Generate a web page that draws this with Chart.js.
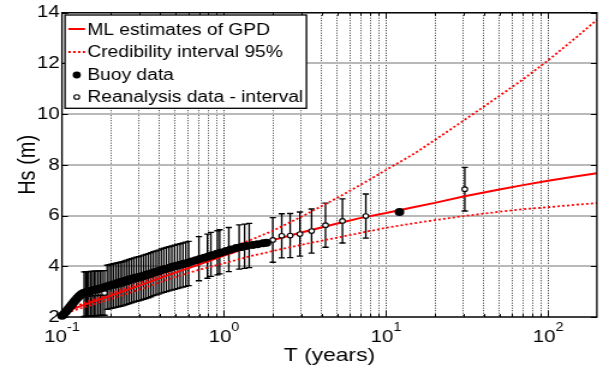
<!DOCTYPE html>
<html>
<head>
<meta charset="utf-8">
<script src="https://cdn.jsdelivr.net/npm/chart.js@4"></script>
<style>
html, body { margin: 0; padding: 0; background: #fff; overflow: hidden; }
#wrap { position: relative; width: 603px; height: 371px; }
canvas { display: block; }
</style>
</head>
<body>
<div id="wrap"><canvas id="c" width="502" height="371" style="width:603px;height:371px"></canvas></div>
<script>
// ---------------- data ----------------
// fitted GPD return-level curve (T in years, Hs in m)
const curveT     = [0.1, 0.15, 0.2, 0.3, 0.5, 0.7, 1, 1.5, 2, 3, 5, 7, 10, 15, 20, 30, 50, 70, 100, 150, 200];
const mlHs       = [2.17, 2.57, 2.84, 3.24, 3.75, 4.07, 4.42, 4.80, 5.03, 5.33, 5.69, 5.91, 6.10, 6.34, 6.50, 6.75, 7.03, 7.20, 7.37, 7.55, 7.67];
const ciUpperHs  = [2.21, 2.65, 2.93, 3.34, 3.88, 4.22, 4.62, 5.07, 5.40, 5.95, 6.70, 7.22, 7.80, 8.45, 8.98, 9.74, 10.72, 11.37, 12.12, 13.04, 13.72];
const ciLowerHs  = [2.12, 2.46, 2.71, 3.08, 3.58, 3.86, 4.12, 4.42, 4.60, 4.85, 5.13, 5.32, 5.52, 5.70, 5.82, 5.98, 6.15, 6.25, 6.33, 6.43, 6.49];

// buoy data (empirical return periods)
const buoyT  = [0.100,0.103,0.106,0.109,0.112,0.115,0.118,0.121,0.124,0.127,0.130,0.133,0.136,0.139,
                0.142,0.146,0.150,0.155,0.160,0.165,0.170,0.176,0.182,0.188,
                0.195,0.202,0.210,0.218,0.227,0.236,0.246,0.256,0.267,0.279,
                0.292,0.305,0.320,0.335,0.352,0.370,0.390,0.410,0.432,0.455,
                0.480,0.507,0.535,0.565,0.597,0.632,0.670,0.710,0.755,0.800,
                0.850,0.905,0.965,1.03,1.10,1.19,1.28,1.37,1.50,1.61,
                1.74,1.83,12.1];
const buoyHs = [2.05,2.13,2.22,2.31,2.40,2.49,2.58,2.66,2.74,2.81,2.87,2.92,2.95,2.97,
                2.99,3.01,3.03,3.05,3.07,3.09,3.11,3.14,3.17,3.20,
                3.23,3.26,3.29,3.33,3.37,3.40,3.43,3.47,3.51,3.54,
                3.57,3.60,3.64,3.68,3.72,3.76,3.80,3.85,3.89,3.93,
                3.98,4.02,4.06,4.10,4.14,4.19,4.24,4.29,4.34,4.39,
                4.44,4.49,4.54,4.60,4.66,4.72,4.76,4.80,4.84,4.87,
                4.91,4.93,6.14];

// reanalysis data with interval
const reanT   = [0.137,0.140,0.143,0.146,0.150,0.154,0.158,0.162,0.167,0.172,0.177,0.183,
                 0.190,0.196,0.202,0.208,0.215,0.222,0.229,0.236,0.244,0.252,0.260,0.269,0.278,0.288,0.298,0.308,0.319,0.330,0.342,0.354,0.367,0.381,0.395,0.410,0.425,0.441,0.458,0.476,0.495,0.515,0.536,0.558,0.581,0.605,
                 0.70,0.79,0.83,0.91,0.94,1.07,1.24,1.34,1.43,2.00,2.27,2.56,2.94,3.47,4.23,5.38,7.50,30.6];
const reanHs  = [2.90,2.90,2.91,2.91,2.92,2.92,2.93,2.93,2.94,2.94,2.95,2.95,
                 3.17,3.19,3.21,3.23,3.25,3.27,3.29,3.31,3.34,3.37,3.40,3.43,3.46,3.49,3.51,3.54,3.57,3.60,3.63,3.67,3.71,3.74,3.77,3.81,3.84,3.87,3.90,3.93,3.96,3.99,4.02,4.05,4.08,4.11,
                 4.30,4.40,4.47,4.53,4.57,4.66,4.76,4.79,4.82,5.04,5.20,5.21,5.27,5.39,5.62,5.79,5.98,7.04];
const reanErr = [0.88,0.88,0.88,0.88,0.88,0.88,0.88,0.88,0.88,0.88,0.88,0.88,
                 0.87,0.87,0.87,0.87,0.87,0.87,0.87,0.87,0.87,0.87,0.87,0.87,0.87,0.87,0.87,0.87,0.87,0.87,0.87,0.87,0.87,0.87,0.87,0.87,0.87,0.87,0.87,0.87,0.87,0.87,0.87,0.87,0.87,0.87,
                 0.87,0.87,0.87,0.87,0.87,0.87,0.87,0.87,0.87,0.88,0.87,0.87,0.87,0.87,0.87,0.87,0.87,0.86];

// axes
const xMin = 0.1, xMax = 200, yMin = 2, yMax = 14;
const yTickValues = [2, 4, 6, 8, 10, 12, 14];
const xGridValues = [0.2,0.3,0.4,0.5,0.6,0.7,0.8,0.9,1,2,3,4,5,6,7,8,9,10,20,30,40,50,60,70,80,90,100];
const xDecadeValues = [0.1, 1, 10, 100];
const xDecadeExponents = ['-1', '0', '1', '2'];
const legendLabels = ['ML estimates of GPD', 'Credibility interval 95%', 'Buoy data', 'Reanalysis data - interval'];

// ---------------- chart ----------------
const FONT = '"Liberation Sans", Arial, Helvetica, sans-serif';
Chart.defaults.font.family = FONT;
Chart.defaults.color = '#000';

const pts = (xs, ys) => xs.map((t, i) => ({ x: t, y: ys[i] }));

const errorBarPlugin = {
  id: 'errorBars',
  beforeDatasetsDraw(chart) {
    const { ctx, scales: { x, y } } = chart;
    const cap = 2.6;
    ctx.save();
    ctx.strokeStyle = '#000';
    ctx.lineWidth = 1.35;
    for (let i = 0; i < reanT.length; i++) {
      const px = x.getPixelForValue(reanT[i]);
      const pLo = y.getPixelForValue(reanHs[i] - reanErr[i]);
      const pHi = y.getPixelForValue(reanHs[i] + reanErr[i]);
      ctx.beginPath();
      ctx.moveTo(px, pLo); ctx.lineTo(px, pHi);
      ctx.moveTo(px - cap, pLo); ctx.lineTo(px + cap, pLo);
      ctx.moveTo(px - cap, pHi); ctx.lineTo(px + cap, pHi);
      ctx.stroke();
    }
    ctx.restore();
  }
};

const framePlugin = {
  id: 'frameAndLegend',
  afterDatasetsDraw(chart) {
    const { ctx, chartArea: a, scales: { x, y } } = chart;
    ctx.save();
    // inward tick marks
    ctx.strokeStyle = '#000';
    ctx.lineWidth = 1;
    ctx.beginPath();
    yTickValues.forEach(v => {
      const py = Math.round(y.getPixelForValue(v)) + 0.5;
      ctx.moveTo(a.left, py); ctx.lineTo(a.left + 5, py);
      ctx.moveTo(a.right, py); ctx.lineTo(a.right - 5, py);
    });
    xGridValues.forEach(v => {
      const px = Math.round(x.getPixelForValue(v)) + 0.5;
      const len = xDecadeValues.includes(v) ? 6 : 3;
      ctx.moveTo(px, a.bottom); ctx.lineTo(px, a.bottom - len);
      ctx.moveTo(px, a.top); ctx.lineTo(px, a.top + len);
    });
    ctx.stroke();
    // axes box
    ctx.lineWidth = 1.3;
    ctx.strokeRect(a.left, a.top, a.right - a.left, a.bottom - a.top);

    // legend (inside the axes, top-left)
    const bx = a.left + 2.5, by = a.top + 2.3, bw = 201, bh = 93.3;
    ctx.fillStyle = '#fff';
    ctx.fillRect(bx, by, bw, bh);
    ctx.lineWidth = 1.3;
    ctx.strokeStyle = '#000';
    ctx.strokeRect(bx, by, bw, bh);
    const rowMid = [14, 37, 60, 82];
    const rowBase = [20, 42, 65, 87];
    const l0 = bx + 2.8, l1 = bx + 16.7, mx = bx + 9.8, tx = bx + 18.6;
    // ML line
    ctx.strokeStyle = '#ff0000';
    ctx.lineWidth = 2;
    ctx.setLineDash([]);
    ctx.beginPath(); ctx.moveTo(l0, by + rowMid[0]); ctx.lineTo(l1, by + rowMid[0]); ctx.stroke();
    // credibility dotted
    ctx.lineWidth = 1.8;
    ctx.setLineDash([2, 2]);
    ctx.beginPath(); ctx.moveTo(l0, by + rowMid[1]); ctx.lineTo(l1, by + rowMid[1]); ctx.stroke();
    ctx.setLineDash([]);
    // buoy marker
    ctx.fillStyle = '#000';
    ctx.beginPath(); ctx.arc(mx, by + rowMid[2], 3.4, 0, Math.PI * 2); ctx.fill();
    // reanalysis marker
    ctx.strokeStyle = '#000';
    ctx.lineWidth = 1.1;
    ctx.fillStyle = '#fff';
    ctx.beginPath(); ctx.arc(mx, by + rowMid[3], 2.3, 0, Math.PI * 2); ctx.fill(); ctx.stroke();
    // texts
    ctx.fillStyle = '#000';
    ctx.font = '16px ' + FONT;
    ctx.textAlign = 'left';
    ctx.textBaseline = 'alphabetic';
    legendLabels.forEach((t, i) => ctx.fillText(t, tx, by + rowBase[i]));
    ctx.restore();
  },
  afterDraw(chart) {
    // x tick labels as powers of ten
    const { ctx, scales: { x } } = chart;
    ctx.save();
    ctx.fillStyle = '#000';
    ctx.textAlign = 'left';
    ctx.textBaseline = 'alphabetic';
    xDecadeValues.forEach((v, i) => {
      const px = x.getPixelForValue(v);
      ctx.font = '17px ' + FONT;
      const wb = ctx.measureText('10').width;
      ctx.font = '12px ' + FONT;
      const we = ctx.measureText(xDecadeExponents[i]).width;
      const start = px - (wb + we) / 2;
      ctx.font = '17px ' + FONT;
      ctx.fillText('10', start, 341.5);
      ctx.font = '12px ' + FONT;
      ctx.fillText(xDecadeExponents[i], start + wb, 330.5);
    });
    ctx.restore();
  }
};

new Chart(document.getElementById('c'), {
  type: 'line',
  data: {
    datasets: [
      { label: legendLabels[0], data: pts(curveT, mlHs), borderColor: '#ff0000', borderWidth: 2,
        pointRadius: 0, fill: false, order: 3 },
      { label: legendLabels[1], data: pts(curveT, ciUpperHs), borderColor: '#ff0000', borderWidth: 1.8,
        borderDash: [2, 2], pointRadius: 0, fill: false, order: 5 },
      { label: legendLabels[1] + ' (lower)', data: pts(curveT, ciLowerHs), borderColor: '#ff0000', borderWidth: 1.8,
        borderDash: [2, 2], pointRadius: 0, fill: false, order: 4 },
      { label: legendLabels[3], data: pts(reanT, reanHs), showLine: false, pointStyle: 'circle',
        pointRadius: 2.3, pointBackgroundColor: '#fff', pointBorderColor: '#000', pointBorderWidth: 1.1,
        order: 2, clip: false },
      { label: legendLabels[2], data: pts(buoyT, buoyHs), showLine: false, pointStyle: 'circle',
        pointRadius: 4, pointBackgroundColor: '#000', pointBorderColor: '#000', pointBorderWidth: 0,
        order: 1, clip: false }
    ]
  },
  options: {
    responsive: false,
    devicePixelRatio: 1,
    animation: false,
    events: [],
    layout: { padding: { left: 7.5, right: 4.2, top: 12.7, bottom: 0 } },
    plugins: { legend: { display: false }, tooltip: { enabled: false } },
    scales: {
      x: {
        type: 'logarithmic', min: xMin, max: xMax,
        afterBuildTicks: s => { s.ticks = xGridValues.map(v => ({ value: v, major: xDecadeValues.includes(v) })); },
        afterFit: s => { s.height = 54; },
        ticks: { display: false },
        grid: {
          drawTicks: false,
          lineWidth: 1,
          color: c => (c.tick && xDecadeValues.includes(c.tick.value)) ? '#111111' : '#383838'
        },
        border: { display: false, dash: [1, 1.5] },
        title: { display: true, text: 'T (years)', font: { size: 19 }, color: '#000', padding: { top: 0, bottom: 3.5 } }
      },
      y: {
        type: 'linear', min: yMin, max: yMax,
        afterBuildTicks: s => { s.ticks = yTickValues.map(v => ({ value: v })); },
        afterFit: s => { s.width = 44.1; },
        ticks: { font: { size: 17 }, color: '#000', padding: 2 },
        grid: { drawTicks: false, color: '#b9b9b9', lineWidth: 2 },
        border: { display: false },
        title: { display: true, text: 'Hs (m)', font: { size: 20 }, color: '#000', padding: 4 }
      }
    }
  },
  plugins: [errorBarPlugin, framePlugin]
});
</script>
</body>
</html>
